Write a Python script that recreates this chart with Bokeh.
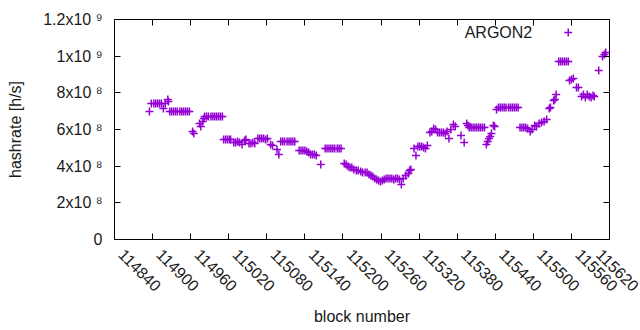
import math
from bokeh.plotting import figure
from bokeh.models import FixedTicker, LinearAxis, Range1d, Label, CustomJSTickFormatter
from bokeh.embed import file_html
from bokeh.resources import INLINE

# ---- data (block number, hashrate in h/s) ----
blocks = [
    114895, 114898, 114902, 114905, 114908, 114911, 114914, 114917, 114920, 114924, 114925,
    114927, 114930, 114933, 114936, 114939, 114943, 114946, 114949, 114952, 114955, 114958,
    114963, 114965, 114974, 114976, 114979, 114981,
    114982, 114985, 114988, 114992, 114995, 114998, 115001, 115004, 115007, 115010,
    115012, 115015, 115018, 115021, 115023,
    115028, 115031, 115034, 115037, 115041, 115045, 115047,
    115052, 115055, 115058, 115061,
    115066, 115069, 115072, 115075, 115078, 115081,
    115086, 115089, 115096, 115099,
    115102, 115105, 115108, 115112, 115115, 115118, 115121, 115124,
    115131, 115134, 115137, 115140, 115143, 115146,
    115149, 115152, 115155, 115158, 115165,
    115172, 115175, 115178, 115181, 115184, 115187, 115191, 115194, 115197,
    115202, 115205, 115208, 115211, 115214, 115217, 115221, 115224,
    115228, 115231, 115235, 115238, 115241, 115244, 115247,
    115250, 115253, 115256, 115259, 115262,
    115265, 115268, 115271, 115274, 115277, 115280, 115283, 115286, 115289, 115292, 115295,
    115299, 115303, 115305, 115307,
    115312, 115315, 115318, 115321, 115324, 115327, 115330, 115333,
    115337, 115340, 115343, 115346,
    115349, 115352, 115355, 115358, 115361, 115364, 115367, 115370,
    115374, 115377, 115386, 115391, 115395, 115397,
    115399, 115402, 115405, 115408, 115411, 115414, 115417, 115420, 115423,
    115426, 115428, 115430, 115432, 115434, 115437, 115439, 115442,
    115445, 115448, 115451, 115454, 115457, 115461, 115464, 115467, 115470, 115473, 115476,
    115479, 115482, 115485, 115488, 115491, 115495, 115498,
    115502, 115505, 115509, 115513, 115517, 115521,
    115525, 115527, 115532, 115534, 115536,
    115540, 115543, 115546, 115549, 115552, 115555,
    115557, 115560, 115563, 115568, 115571,
    115576, 115579, 115582, 115585, 115588, 115591, 115594, 115596,
    115603, 115609, 115612, 115614,
]
hashrate_m = [
    698, 742, 742, 742, 742, 742, 742, 714, 742, 763, 753,
    698, 698, 698, 698, 698, 698, 698, 698, 698, 698, 698,
    589, 578, 633, 616, 644, 660,
    671, 671, 671, 671, 671, 671, 671, 671, 671, 671,
    545, 545, 545, 545, 545,
    529, 529, 535, 529, 518, 540, 545,
    524, 524, 529, 524,
    551, 551, 551, 551, 546, 551,
    518, 513, 491, 464,
    535, 535, 535, 535, 535, 535, 535, 535,
    485, 485, 485, 485, 480, 475,
    464, 464, 464, 458, 409,
    496, 496, 496, 496, 496, 496, 496, 496, 496,
    415, 409, 398, 393, 393, 382, 376, 376,
    371, 365, 365, 365, 355, 349, 344,
    333, 327, 322, 316, 322,
    327, 333, 333, 333, 333, 327, 333, 333, 327, 300, 333,
    349, 360, 376, 382,
    496, 458, 507, 507, 507, 502, 496, 513,
    584, 589, 605, 600,
    584, 584, 584, 584, 578, 589, 551, 600,
    627, 616, 567, 529, 633, 622,
    611, 611, 611, 611, 611, 611, 611, 611, 611,
    518, 535, 551, 562, 578, 622, 616, 709,
    720, 720, 720, 720, 720, 720, 720, 720, 720, 720, 720,
    611, 611, 611, 611, 606, 589, 600,
    622, 616, 633, 638, 644, 655,
    714, 720, 758, 764, 791,
    971, 971, 971, 971, 971, 971,
    867, 873, 878, 829, 829,
    780, 791, 775, 791, 780, 775, 785, 780,
    922, 998, 1009, 1020,
]
hashrate = [v * 1e6 for v in hashrate_m]

x_ticks = [114840, 114900, 114960, 115020, 115080, 115140, 115200,
           115260, 115320, 115380, 115440, 115500, 115560, 115620]
x_tick_labels = [str(t) for t in x_ticks]
y_ticks = [0, 2e8, 4e8, 6e8, 8e8, 1e9, 1.2e9]
y_tick_labels = ["0", "2x10 \u2078", "4x10 \u2078", "6x10 \u2078", "8x10 \u2078",
                 "1x10 \u2079", "1.2x10 \u2079"]
series_name = "ARGON2"
legend_key_x = 115555
legend_key_y = 1.129e9

X0, X1 = 114840, 115620
FRAME_W, FRAME_H = 495, 220
LABEL_SHIFT_PX = 7  # rotated labels start a little right of their tick
shift = LABEL_SHIFT_PX * (X1 - X0) / FRAME_W
lab_lo, lab_hi = X0 - shift, X1 - shift
# the last tick's label has to stay inside the label axis range
label_ticks = [min(t, lab_hi - 1e-6) for t in x_ticks]

COLOR = "#9400d3"
FONT = "Liberation Sans"
FS = "16px"
TXT = "#1a1a1a"

p = figure(width=640, height=330, output_backend="svg", toolbar_location=None,
           x_range=Range1d(X0, X1), y_range=Range1d(0, 1.2e9),
           frame_width=FRAME_W, frame_height=FRAME_H,
           min_border_left=114, min_border_right=31, min_border_top=19,
           min_border_bottom=91)
p.outline_line_color = "black"
p.outline_line_width = 1
p.xgrid.visible = False
p.ygrid.visible = False
p.background_fill_color = "white"
p.border_fill_color = "white"
p.extra_x_ranges = {"labels": Range1d(lab_lo, lab_hi)}

p.scatter(blocks, hashrate, marker="cross", size=8, line_width=1.5,
          line_color=COLOR, fill_color=COLOR)

# legend
p.scatter([legend_key_x], [legend_key_y], marker="cross", size=8, line_width=1.5,
          line_color=COLOR)
p.add_layout(Label(x=legend_key_x, y=legend_key_y, text=series_name, x_offset=-36,
                   text_align="right", text_baseline="middle",
                   text_font=FONT, text_font_size=FS, text_color=TXT))

blank = CustomJSTickFormatter(code="return ''")

def style_ticks(ax):
    ax.major_tick_in = 6
    ax.major_tick_out = 0
    ax.minor_tick_in = 0
    ax.minor_tick_out = 0
    ax.axis_line_color = None

# bottom axis: tick marks only
xa = p.xaxis[0]
xa.ticker = FixedTicker(ticks=x_ticks)
xa.formatter = blank
xa.major_label_standoff = 0
style_ticks(xa)

# bottom labels axis: rotated labels
xl = LinearAxis(x_range_name="labels", ticker=FixedTicker(ticks=label_ticks),
                axis_line_color=None,
                major_tick_in=0, major_tick_out=0, minor_tick_in=0, minor_tick_out=0,
                major_label_overrides={lt: l for lt, l in zip(label_ticks, x_tick_labels)},
                major_label_orientation=-math.pi / 4, major_label_standoff=12,
                major_label_text_font=FONT, major_label_text_font_size=FS,
                major_label_text_color=TXT,
                axis_label="block number", axis_label_standoff=8,
                axis_label_text_font=FONT, axis_label_text_font_size=FS,
                axis_label_text_font_style="normal", axis_label_text_color=TXT)
p.add_layout(xl, "below")

ya = p.yaxis[0]
ya.ticker = FixedTicker(ticks=y_ticks)
ya.major_label_overrides = {t: l for t, l in zip(y_ticks, y_tick_labels)}
ya.axis_label = "hashrate [h/s]"
style_ticks(ya)
ya.major_label_text_font = FONT
ya.major_label_text_font_size = FS
ya.major_label_text_color = TXT
ya.axis_label_text_font = FONT
ya.axis_label_text_font_size = FS
ya.axis_label_text_font_style = "normal"
ya.axis_label_text_color = TXT
ya.major_label_standoff = 12
ya.axis_label_standoff = 16

top = LinearAxis(ticker=FixedTicker(ticks=x_ticks), formatter=blank,
                 major_label_standoff=0)
right = LinearAxis(ticker=FixedTicker(ticks=y_ticks), formatter=blank,
                   major_label_standoff=0)
style_ticks(top)
style_ticks(right)
p.add_layout(top, "above")
p.add_layout(right, "right")

open("out.html", "w").write(file_html(p, INLINE))
